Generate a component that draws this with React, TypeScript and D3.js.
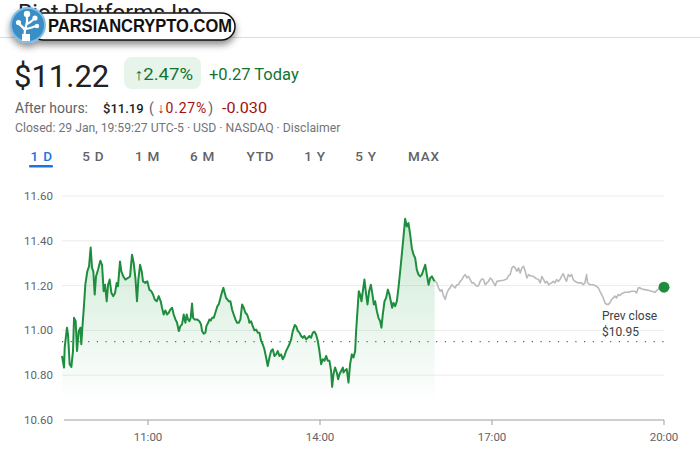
import React from "react";
import * as d3 from "d3";

// ---- Data (minutes since 09:30, price) ----
const regularMinutes = [0,2.1,2.8,5.2,6.3,8.0,9.8,11.5,12.6,14.3,15.7,17.5,19.2,20.2,21.3,22.7,24.4,26.5,28.3,30.0,31.4,32.8,34.2,35.6,37.7,40.1,41.9,43.6,45.0,46.8,48.2,49.9,51.7,53.7,55.5,57.2,58.6,60.7,62.1,64.2,66.3,69.1,71.2,73.3,75.0,76.8,78.5,79.9,81.7,83.4,84.8,87.2,89.3,91.4,93.5,95.3,97.0,99.1,101.2,103.3,104.7,106.4,108.2,109.9,111.7,113.4,115.2,116.9,118.7,120.4,122.2,123.9,125.6,127.4,129.1,130.5,131.9,133.3,134.7,136.1,137.2,138.9,141.3,143.8,145.5,146.6,148.3,150.1,151.1,152.9,154.3,155.7,157.1,158.8,160.5,162.6,164.0,165.8,167.5,168.9,170.3,171.7,173.1,174.5,176.2,178.0,179.7,181.5,183.2,185.0,186.7,188.5,190.2,191.9,193.7,195.4,196.1,197.9,199.6,201.4,203.1,204.9,206.6,208.4,210.1,211.8,213.6,215.3,217.1,218.8,220.6,222.3,224.1,225.8,227.5,229.3,231.0,232.8,234.5,236.3,238.0,239.8,241.5,243.6,245.0,246.8,248.5,250.2,252.0,253.7,255.5,257.2,259.0,260.7,262.5,264.2,265.9,267.7,269.4,271.2,272.9,274.7,276.4,278.2,279.9,281.6,282.7,284.1,285.8,287.6,289.0,290.4,292.1,293.9,294.6,296.3,298.0,299.8,301.5,303.3,305.0,306.8,307.8,309.2,310.6,312.0,313.4,314.8,316.5,318.3,319.7,321.4,323.2,324.9,326.3,327.7,329.5,331.2,333.0,334.3,335.7,337.5,339.2,341.0,342.7,344.1,345.5,346.9,348.7,350.4,352.1,353.9,355.6,357.4,359.1,360.9,362.6,364.4,366.1,367.9,369.6,371.3,373.1,374.8,376.6,378.3,380.1,381.8,383.6,385.3,387.1,388.8,390];
const regularPrices = [10.886,10.834,10.923,11.012,10.982,10.849,10.837,10.908,11.056,11.041,10.908,10.997,11.012,10.938,11.012,11.093,11.204,11.264,11.286,11.370,11.279,11.264,11.160,11.241,11.271,11.311,11.293,11.175,11.204,11.130,11.204,11.227,11.167,11.153,11.167,11.212,11.197,11.308,11.264,11.241,11.227,11.234,11.241,11.338,11.301,11.234,11.130,11.227,11.293,11.264,11.219,11.212,11.219,11.182,11.175,11.160,11.138,11.130,11.153,11.130,11.101,11.071,11.089,11.071,11.079,11.093,11.101,11.071,11.049,11.034,10.997,11.019,11.027,11.071,11.034,11.071,11.049,11.041,11.056,11.120,11.056,11.049,11.049,11.041,11.027,10.997,10.985,10.990,11.019,11.034,11.049,11.044,11.056,11.056,11.079,11.108,11.116,11.145,11.172,11.190,11.167,11.145,11.138,11.130,11.130,11.093,11.071,11.049,11.034,11.034,11.049,11.116,11.101,11.079,11.071,11.049,11.034,11.041,11.019,11.000,11.004,10.990,10.990,10.953,10.938,10.916,10.879,10.841,10.879,10.908,10.916,10.886,10.893,10.908,10.886,10.893,10.871,10.886,10.908,10.923,10.938,10.960,10.997,11.024,11.019,10.997,10.990,10.975,10.967,10.975,10.960,10.967,10.975,10.967,10.990,10.994,10.982,10.953,10.908,10.849,10.871,10.864,10.886,10.864,10.864,10.819,10.748,10.804,10.834,10.812,10.782,10.804,10.819,10.834,10.812,10.822,10.827,10.767,10.849,10.893,10.879,10.908,10.997,11.086,11.175,11.160,11.130,11.175,11.227,11.160,11.116,11.175,11.204,11.160,11.116,11.130,11.086,11.056,11.041,11.012,11.071,11.130,11.145,11.182,11.160,11.130,11.101,11.123,11.108,11.130,11.190,11.264,11.338,11.419,11.498,11.464,11.479,11.427,11.367,11.338,11.323,11.271,11.249,11.241,11.249,11.271,11.293,11.249,11.204,11.234,11.241,11.227,11.220];

const afterMinutes = [390,392.3,394.0,395.8,397.5,399.3,401.0,402.8,404.5,406.2,408.0,409.7,411.5,413.2,415.0,416.7,418.5,420.2,421.9,423.7,425.4,427.2,428.9,430.7,432.4,434.2,435.9,437.6,439.4,441.1,442.9,444.6,446.4,448.1,449.9,451.6,453.4,455.1,458.6,462.1,465.6,467.3,469.1,470.8,472.5,474.3,476.0,477.8,479.5,481.3,483.0,484.8,486.5,488.3,490.0,493.5,495.2,497.0,498.7,500.5,502.2,504.0,505.7,507.5,509.2,512.3,514.1,515.8,517.6,519.3,521.1,522.8,524.6,526.3,528.0,529.8,531.5,533.3,535.0,536.8,540.3,543.7,545.5,547.2,549.0,550.0,552.5,556.0,557.7,559.4,561.2,562.9,564.7,566.4,568.2,569.9,571.7,573.4,575.2,576.9,578.6,580.4,582.1,583.9,585.6,587.4,589.1,592.6,596.1,599.6,601.3,603.1,604.8,606.6,610.1,613.5,617.0,620.5,624.0,630];
const afterPrices = [11.220,11.212,11.190,11.175,11.182,11.153,11.138,11.167,11.182,11.190,11.204,11.197,11.190,11.204,11.204,11.219,11.227,11.241,11.249,11.234,11.241,11.227,11.212,11.212,11.204,11.197,11.200,11.219,11.230,11.227,11.204,11.212,11.219,11.234,11.227,11.212,11.200,11.219,11.222,11.224,11.230,11.244,11.249,11.279,11.286,11.279,11.264,11.279,11.256,11.279,11.286,11.264,11.234,11.249,11.244,11.241,11.234,11.230,11.227,11.212,11.241,11.227,11.212,11.219,11.204,11.212,11.219,11.212,11.227,11.219,11.227,11.241,11.253,11.234,11.219,11.249,11.241,11.249,11.227,11.219,11.212,11.212,11.204,11.212,11.249,11.212,11.204,11.204,11.200,11.197,11.190,11.175,11.160,11.145,11.123,11.116,11.116,11.123,11.138,11.145,11.153,11.145,11.160,11.156,11.164,11.167,11.170,11.170,11.175,11.175,11.167,11.190,11.190,11.185,11.182,11.179,11.175,11.170,11.185,11.193];

const yTicks = [10.6, 10.8, 11.0, 11.2, 11.4, 11.6];
const xTickMinutes = [90, 270, 450, 630];
const xTickLabels = ["11:00", "14:00", "17:00", "20:00"];
const prevClose = 10.95;
const tabs = ["1 D", "5 D", "1 M", "6 M", "YTD", "1 Y", "5 Y", "MAX"];
const tabCenters = [41.7, 93.3, 147.5, 202.5, 260.5, 315, 366, 424];

const FONT = "Roboto, 'Noto Sans', Arial, sans-serif";

export default function App() {
  const x = d3.scaleLinear().domain([0, 630]).range([62, 664]);
  const y = d3.scaleLinear().domain([10.6, 11.6]).range([420, 196]);

  const reg = regularMinutes.map((m, i) => [m, regularPrices[i]] as [number, number]);
  const aft = afterMinutes.map((m, i) => [m, afterPrices[i]] as [number, number]);

  const line = d3.line<[number, number]>().x(d => x(d[0])).y(d => y(d[1]));
  const area = d3.area<[number, number]>().x(d => x(d[0])).y0(y(10.6)).y1(d => y(d[1]));

  const last = aft[aft.length - 1];

  return (
    <svg width={700} height={453} style={{ position: "absolute", left: 0, top: 0, background: "#fff" }} fontFamily={FONT}>
      <defs>
        <linearGradient id="fillG" gradientUnits="userSpaceOnUse" x1={0} y1={y(11.5)} x2={0} y2={y(10.68)}>
          <stop offset="0%" stopColor="#34a853" stopOpacity={0.26} />
          <stop offset="100%" stopColor="#34a853" stopOpacity={0} />
        </linearGradient>
        <filter id="shadow" x="-20%" y="-50%" width="140%" height="220%">
          <feDropShadow dx="0" dy="4" stdDeviation="3.5" floodColor="#000" floodOpacity="0.45" />
        </filter>
      </defs>

      {/* Header */}
      <text x={18} y={21} fontSize={23} fill="#202124">Riot Platforms Inc</text>
      <line x1={0} x2={700} y1={37.5} y2={37.5} stroke="#dadce0" strokeWidth={1} />

      <text x={14} y={87} fontSize={31} fill="#202124">$11.22</text>
      <rect x={124} y={57} width={77} height={32} rx={8} fill="#e6f4ea" />
      <text x={134} y={79.5} fontSize={16} fill="#137333" textLength={59} lengthAdjust="spacingAndGlyphs">↑2.47%</text>
      <text x={209} y={79.5} fontSize={16.5} fill="#137333">+0.27 Today</text>

      <text x={15} y={113} fontSize={14} fill="#5f6368">After hours:</text>
      <text x={103} y={113} fontSize={13} fill="#202124" fontWeight={500}>$11.19</text>
      <text y={113} fontSize={14} textLength={64} lengthAdjust="spacing">
        <tspan x={149} fill="#5f6368">(</tspan>
        <tspan dx={3} fill="#a50e0e">↓0.27%</tspan>
        <tspan dx={1} fill="#5f6368">)</tspan>
      </text>
      <text x={222} y={113} fontSize={14} fill="#a50e0e" textLength={45} lengthAdjust="spacingAndGlyphs">-0.030</text>

      <text x={15} y={131.5} fontSize={12.2} fill="#70757a">Closed: 29 Jan, 19:59:27 UTC-5 · USD · NASDAQ · Disclaimer</text>

      {tabs.map((t, i) => (
        <text key={t} x={tabCenters[i]} y={161} fontSize={13.5} textAnchor="middle" letterSpacing={0.8}
          fill={i === 0 ? "#1a73e8" : "#5f6368"} fontWeight={500}>{t}</text>
      ))}
      <rect x={29} y={165} width={24} height={2.5} rx={1} fill="#1a73e8" />

      {/* Grid */}
      {yTicks.map(t => (
        <g key={t}>
          {t > 10.6 && <line x1={62} x2={664} y1={y(t)} y2={y(t)} stroke="#ececec" strokeWidth={1} />}
          <text x={53} y={y(t) + 4} fontSize={11.5} textAnchor="end" fill="#5f6368">{t.toFixed(2)}</text>
        </g>
      ))}
      <line x1={64} x2={664} y1={y(10.6)} y2={y(10.6)} stroke="#9aa0a6" strokeWidth={1} />
      {xTickMinutes.map((m, i) => (
        <g key={m}>
          <line x1={x(m)} x2={x(m)} y1={y(10.6)} y2={y(10.6) + 5} stroke="#9aa0a6" strokeWidth={1} />
          <text x={x(m)} y={441} fontSize={11.5} textAnchor="middle" fill="#5f6368">{xTickLabels[i]}</text>
        </g>
      ))}

      {/* Area + lines */}
      <path d={area(reg) || ""} fill="url(#fillG)" />
      <line x1={62} x2={664} y1={y(prevClose)} y2={y(prevClose)} stroke="#5f6368" strokeWidth={1.2} strokeDasharray="1.2 7.5" />
      <path d={line(aft) || ""} fill="none" stroke="#b8babd" strokeWidth={1.6} strokeLinejoin="round" />
      <path d={line(reg) || ""} fill="none" stroke="#1e8e3e" strokeWidth={2} strokeLinejoin="round" />
      <circle cx={x(last[0])} cy={y(last[1])} r={5.5} fill="#1e8e3e" />

      <text x={602} y={320} fontSize={12} fill="#3c4043">Prev close</text>
      <text x={602} y={336} fontSize={12} fill="#3c4043">$10.95</text>

      {/* Watermark */}
      <g filter="url(#shadow)">
        <rect x={30} y={13} width={205} height={27} rx={13.5} fill="#fff" stroke="#111" strokeWidth={1.5} />
        <circle cx={28} cy={25} r={17} fill="#3b8dc5" stroke="#7fbde6" strokeWidth={2} />
      </g>
      <g fill="#fff" stroke="#fff">
        <path d="M24 40 L25 30 Q22 26 19 24 M25 30 L27 22 L27 15 M27 24 Q31 22 34 19 M26 29 Q31 28 36 26" fill="none" strokeWidth={2.2} strokeLinecap="round" />
        <circle cx={27} cy={14} r={3.2} stroke="none" />
        <circle cx={18.5} cy={22.5} r={2.6} stroke="none" />
        <circle cx={35} cy={18} r={2.6} stroke="none" />
        <circle cx={37} cy={26} r={2.2} stroke="none" />
        <rect x={22} y={34} width={8} height={7} stroke="none" />
      </g>
      <text x={48} y={32} fontSize={18} fontWeight={700} fill="#111" fontFamily="'Liberation Sans', Arial, sans-serif"
        textLength={184} lengthAdjust="spacingAndGlyphs">PARSIANCRYPTO.COM</text>
    </svg>
  );
}
